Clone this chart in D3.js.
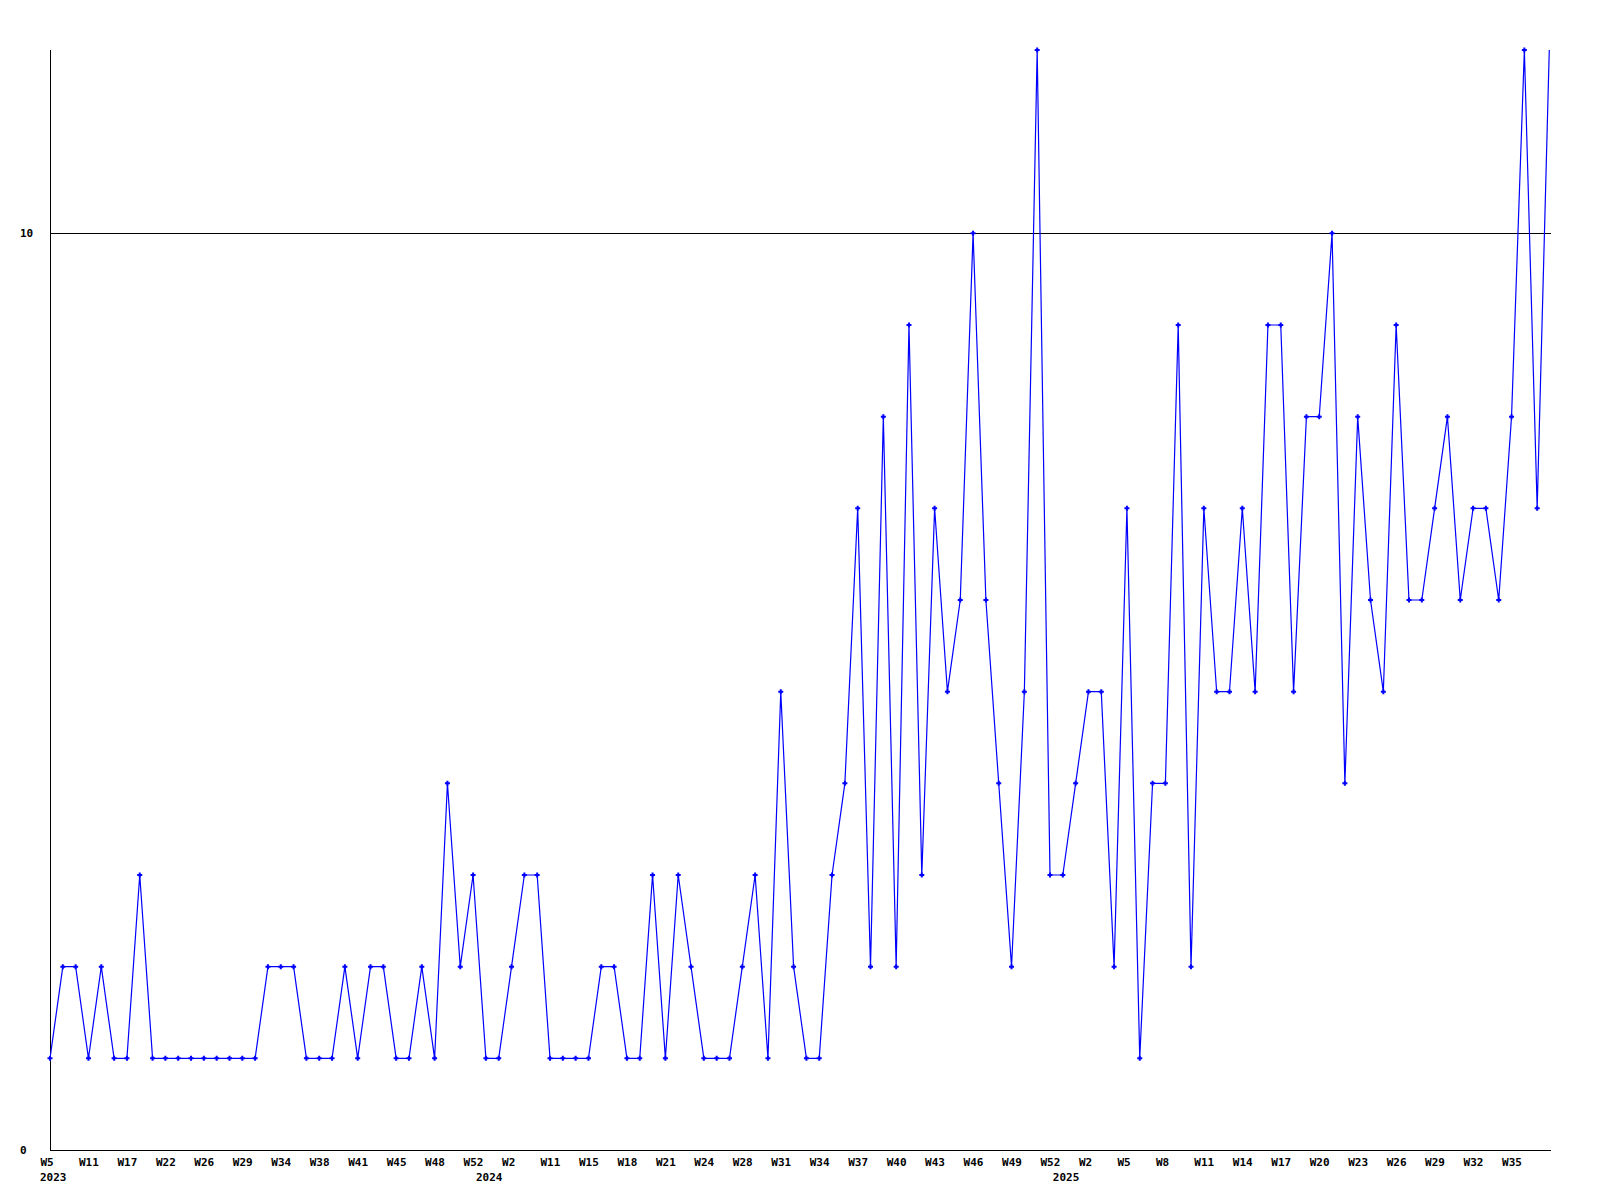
<!DOCTYPE html>
<html>
<head>
<meta charset="utf-8">
<script src="https://cdn.jsdelivr.net/npm/d3@7"></script>
<style>
  body { margin: 0; background: #fff; }
  svg text { font-family: "DejaVu Sans Mono", monospace; font-size: 11px; font-weight: bold; fill: #000; }
</style>
</head>
<body>
<svg id="chart" width="1600" height="1200"></svg>
<script>
// weekly counts, one per data point (last one runs off the top of the chart)
var values = [
  1, 2, 2, 1, 2, 1, 1, 3, 1, 1,
  1, 1, 1, 1, 1, 1, 1, 2, 2, 2,
  1, 1, 1, 2, 1, 2, 2, 1, 1, 2,
  1, 4, 2, 3, 1, 1, 2, 3, 3, 1,
  1, 1, 1, 2, 2, 1, 1, 3, 1, 3,
  2, 1, 1, 1, 2, 3, 1, 5, 2, 1,
  1, 3, 4, 7, 2, 8, 2, 9, 3, 7,
  5, 6, 10, 6, 4, 2, 5, 12, 3, 3,
  4, 5, 5, 2, 7, 1, 4, 4, 9, 2,
  7, 5, 5, 7, 5, 9, 9, 5, 8, 8,
  10, 4, 8, 6, 5, 9, 6, 6, 7, 8,
  6, 7, 7, 6, 8, 12, 7, 12.3
]
// a week label every 3rd point
var weekLabels = ['W5', 'W11', 'W17', 'W22', 'W26', 'W29', 'W34', 'W38', 'W41', 'W45',
  'W48', 'W52', 'W2', 'W11', 'W15', 'W18', 'W21', 'W24', 'W28', 'W31',
  'W34', 'W37', 'W40', 'W43', 'W46', 'W49', 'W52', 'W2', 'W5', 'W8',
  'W11', 'W14', 'W17', 'W20', 'W23', 'W26', 'W29', 'W32', 'W35']
var labelStep = 3
var years = ['2023', '2024', '2025']
var yearStart = [0, 34, 79]
var yTicks = [0, 10]
var yMax = 12

function draw(){
  var svg = d3.select('svg#chart')
  var left = 50, right = 1550, top = 50, bottom = 1150

  var x = d3.scaleLinear()
    .domain([0, values.length - 1])
    .range([left, right])
  var y = d3.scaleLinear()
    .domain([0, yMax])
    .range([bottom, top])

  // line is cut at the plot box, marks may poke out a little
  svg.append('clipPath')
    .attr('id', 'plotline')
    .append('rect')
    .attr('x', left).attr('y', top)
    .attr('width', right - left + 1).attr('height', bottom - top)
  svg.append('clipPath')
    .attr('id', 'plotmark')
    .append('rect')
    .attr('x', left - 6).attr('y', top - 3)
    .attr('width', right - left + 12).attr('height', bottom - top + 6)

  // grid line(s) above zero
  svg.selectAll('line.grid')
    .data(yTicks.filter(function(d){ return d > 0 }))
    .enter()
    .append('line')
    .attr('class', 'grid')
    .attr('x1', left).attr('x2', right + 1)
    .attr('y1', function(d){ return Math.round(y(d)) + 0.5 })
    .attr('y2', function(d){ return Math.round(y(d)) + 0.5 })
    .style('stroke', '#000')
    .style('stroke-width', 1)

  // axes lines
  svg.append('line')
    .attr('x1', left + 0.5).attr('x2', left + 0.5)
    .attr('y1', top).attr('y2', bottom)
    .style('stroke', '#000')
  svg.append('line')
    .attr('x1', left).attr('x2', right + 1)
    .attr('y1', bottom + 0.5).attr('y2', bottom + 0.5)
    .style('stroke', '#000')

  // y labels, left aligned
  svg.selectAll('text.ylab')
    .data(yTicks)
    .enter()
    .append('text')
    .attr('class', 'ylab')
    .attr('x', 20)
    .attr('y', function(d){ return y(d) })
    .attr('dy', '0.36em')
    .text(function(d){ return d })

  // week axis
  var tickIdx = weekLabels.map(function(d, i){ return i * labelStep })
  var xAxis = d3.axisBottom(x)
    .tickValues(tickIdx)
    .tickSize(0)
    .tickPadding(0)
    .tickFormat(function(d){ return weekLabels[d / labelStep] })
  var gx = svg.append('g')
    .attr('transform', 'translate(0,' + bottom + ')')
    .call(xAxis)
  gx.select('.domain').remove()
  gx.selectAll('text')
    .attr('text-anchor', 'start')
    .attr('font-family', null).attr('font-size', null)
    .attr('dx', -10)
    .attr('y', 16)
    .attr('dy', 0)

  svg.selectAll('text.year')
    .data(years)
    .enter()
    .append('text')
    .attr('class', 'year')
    .attr('x', function(d, i){ return x(yearStart[i]) - 10 })
    .attr('y', bottom + 31)
    .text(function(d){ return d })

  var line = d3.line()
    .x(function(d, i){ return x(i) })
    .y(function(d){ return y(d) })
  svg.append('g').attr('clip-path', 'url(#plotline)')
    .append('path')
    .datum(values)
    .attr('d', line)
    .style('fill', 'none')
    .style('stroke', '#0000ff')
    .style('stroke-width', 1.2)

  svg.append('g').attr('clip-path', 'url(#plotmark)')
    .selectAll('path.mark')
    .data(values.filter(function(d){ return d <= yMax }))
    .enter()
    .append('path')
    .attr('class', 'mark')
    .attr('transform', function(d, i){ return 'translate(' + x(i) + ',' + y(d) + ')' })
    .attr('d', 'M-2.5,0H2.5M0,-2.5V2.5')
    .style('stroke', '#0000ff')
    .style('stroke-width', 2)
}

draw()
</script>
</body>
</html>
